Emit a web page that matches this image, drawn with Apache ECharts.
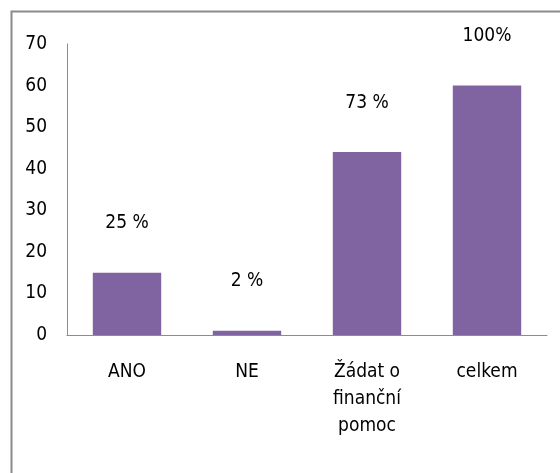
<!DOCTYPE html>
<html>
<head>
<meta charset="utf-8">
<script src="https://cdn.jsdelivr.net/npm/echarts@6/dist/echarts.min.js"></script>
<style>
  html, body { margin: 0; padding: 0; background: #fff; }
  #main { width: 560px; height: 473px; }
</style>
</head>
<body>
<div id="main"></div>
<script>
// data
var categories = ['ANO', 'NE', 'Žádat o\nfinanční\npomoc', 'celkem']
var counts = [15, 1, 44, 60]
var percentLabels = ['25 %', '2 %', '73 %', '100%']

var font = '"Liberation Sans Narrow", "DejaVu Sans Condensed", "Liberation Sans", sans-serif'

var myChart = echarts.init(document.getElementById('main'))
myChart.setOption({
  animation: false,
  graphic: [
    {
      type: 'rect',
      shape: { x: 11.5, y: 11.5, width: 600, height: 600 },
      style: { fill: 'none', stroke: '#8a8a8a', lineWidth: 2 }
    }
  ],
  grid: { left: 67, right: 13, top: 44, bottom: 138 },
  xAxis: {
    type: 'category',
    data: categories,
    axisLine: { lineStyle: { color: '#8c8c8c', width: 1 } },
    axisTick: { show: false },
    axisLabel: {
      color: '#000',
      fontFamily: font,
      fontSize: 19,
      lineHeight: 27,
      margin: 24,
      interval: 0
    }
  },
  yAxis: {
    type: 'value',
    min: 0,
    max: 70,
    interval: 10,
    splitLine: { show: false },
    axisLine: { show: true, lineStyle: { color: '#8c8c8c', width: 1 } },
    axisTick: { show: false },
    axisLabel: { color: '#000', fontFamily: font, fontSize: 19, margin: 20 }
  },
  series: [
    {
      type: 'bar',
      data: counts,
      barWidth: '57%',
      itemStyle: { color: '#8064a2' },
      label: {
        show: true,
        position: 'top',
        distance: 40,
        color: '#000',
        fontFamily: font,
        fontSize: 19,
        formatter: function (p) { return percentLabels[p.dataIndex] }
      }
    }
  ]
})
</script>
</body>
</html>
